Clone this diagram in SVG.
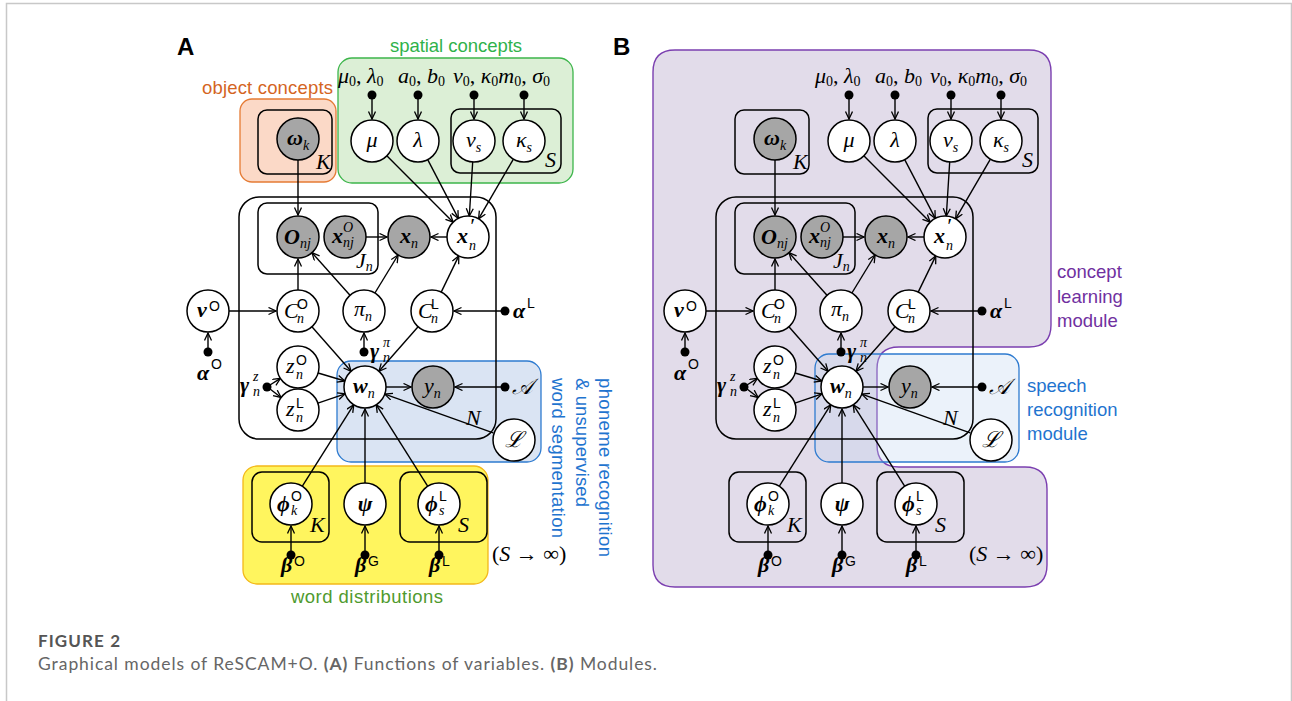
<svg xmlns="http://www.w3.org/2000/svg" width="1292" height="701" viewBox="0 0 1292 701">
<defs>
<marker id="ah" markerWidth="10" markerHeight="10" refX="8" refY="4" orient="auto" markerUnits="userSpaceOnUse">
<path d="M0.5,0.5 L8,4 L0.5,7.5" fill="none" stroke="#000" stroke-width="1.3"/>
</marker>
<style>
.n{fill:#fff;stroke:#000;stroke-width:1.5}
.g{fill:#a6a6a6;stroke:#000;stroke-width:1.5}
.pl{fill:none;stroke:#000;stroke-width:1.5}
.e{fill:none;stroke:#000;stroke-width:1.4;marker-end:url(#ah)}
.m{font-family:"Liberation Serif","DejaVu Serif",serif;font-style:italic;font-size:22px;fill:#000}
.b{font-weight:bold}
.s{font-size:14px}
.up{font-style:normal}
.u{font-family:"Liberation Sans",Arial,sans-serif;font-style:normal;font-size:14px;fill:#000}
.lbl{font-family:"Liberation Sans",Arial,sans-serif;font-size:18.5px}
.panel{font-family:"Liberation Sans",Arial,sans-serif;font-weight:bold;font-size:24px;fill:#000}
</style>
</defs>
<rect x="0" y="0" width="1292" height="701" fill="#fff"/>
<path d="M6.5,701 V3.5 H1291.5 V701" fill="none" stroke="#c8c8c8" stroke-width="1.5"/>

<!-- ================= PANEL A ================= -->
<text class="panel" x="177" y="55">A</text>
<g id="a-backgrounds">
<rect x="240" y="99" width="96" height="83" rx="12" fill="#fbd9c7" stroke="#e57b35" stroke-width="1.3"/>
<rect x="338" y="58" width="235" height="125" rx="14" fill="#dcefd6" stroke="#3db54b" stroke-width="1.3"/>
<rect x="337" y="361" width="204" height="101" rx="14" fill="#dae4f3" stroke="#2e7bd0" stroke-width="1.3"/>
<rect x="243" y="466" width="245" height="118" rx="14" fill="#fff55e" stroke="#f3b81a" stroke-width="1.3"/>
<text class="lbl" x="390" y="52" fill="#2fb24a" textLength="132">spatial concepts</text>
<text class="lbl" x="202" y="94" fill="#d4651f" textLength="131">object concepts</text>
<text class="lbl" x="291" y="603" fill="#4f9a2e" textLength="152">word distributions</text>
<g class="lbl" fill="#1f74cf" font-size="19px">
<text transform="translate(599,378) rotate(90)" textLength="179">phoneme recognition</text>
<text transform="translate(576,378) rotate(90)" textLength="129">&amp; unsupervised</text>
<text transform="translate(552,378) rotate(90)" textLength="160">word segmentation</text>
</g>
</g>

<g id="a-plates">
<rect class="pl" x="258" y="110" width="74" height="64" rx="9"/>
<rect class="pl" x="451" y="109" width="110" height="64" rx="9"/>
<rect class="pl" x="239" y="197" width="257" height="242" rx="20"/>
<rect class="pl" x="258" y="203" width="120" height="71" rx="9"/>
<rect class="pl" x="252" y="472" width="77" height="70" rx="10"/>
<rect class="pl" x="400" y="472" width="87" height="70" rx="10"/>
<text class="m" x="316" y="169">K</text>
<text class="m" x="545" y="167">S</text>
<text class="m" x="356" y="268">J<tspan class="s" dy="3">n</tspan></text>
<text class="m" x="466" y="425" font-size="20">N</text>
<text class="m" x="310" y="532">K</text>
<text class="m" x="458" y="532">S</text>
</g>

<g id="a-hyper">
<text class="m" x="338" y="83">μ<tspan class="s up" dy="3">0</tspan><tspan class="up" dy="-3">, </tspan>λ<tspan class="s up" dy="3">0</tspan></text>
<text class="m" x="398" y="83">a<tspan class="s up" dy="3">0</tspan><tspan class="up" dy="-3">, </tspan>b<tspan class="s up" dy="3">0</tspan></text>
<text class="m" x="453" y="83">ν<tspan class="s up" dy="3">0</tspan><tspan class="up" dy="-3">, </tspan>κ<tspan class="s up" dy="3">0</tspan><tspan dy="-3">m</tspan><tspan class="s up" dy="3">0</tspan><tspan class="up" dy="-3">, </tspan>σ<tspan class="s up" dy="3">0</tspan></text>
<text class="m b" x="513" y="318">α</text><text class="u" x="527" y="308" font-size="15">L</text>
<text class="m b" x="197" y="380">α</text><text class="u" x="211" y="369" font-size="15">O</text>
<text class="m b" x="370" y="358">γ</text><text class="m s" x="383" y="347">π</text><text class="m s" x="383" y="362">n</text>
<text class="m b" x="240" y="392">γ</text><text class="m s" x="253" y="381">z</text><text class="m s" x="253" y="396">n</text>
<text class="m" x="512" y="394">𝒜</text>
<text class="m b" x="281" y="572">β</text><text class="u" x="294" y="566" font-size="15">O</text>
<text class="m b" x="355" y="572">β</text><text class="u" x="368" y="566" font-size="15">G</text>
<text class="m b" x="429" y="572">β</text><text class="u" x="442" y="566" font-size="15">L</text>
<text class="m up" x="492" y="561" font-size="20">(<tspan font-style="italic">S</tspan> → ∞)</text>
</g>

<g id="a-connectors">
<path class="e" d="M372,99 L372,119"/>
<path class="e" d="M418,99 L418,119"/>
<path class="e" d="M474,99 L474,119"/>
<path class="e" d="M524,99 L524,119"/>
<path class="e" d="M298,160 L298,215"/>
<path class="e" d="M386.8,155.8 L453.2,222.2"/>
<path class="e" d="M427.7,159.6 L458.3,218.4"/>
<path class="e" d="M472.7,162 L469.3,216"/>
<path class="e" d="M513.4,159.1 L478.6,218.9"/>
<path class="e" d="M366,237 L387,237"/>
<path class="e" d="M447,237 L431,237"/>
<path class="e" d="M298,290 L298,259"/>
<path class="e" d="M350,295.3 L312,252.7"/>
<path class="e" d="M374.9,293 L398.1,255"/>
<path class="e" d="M441.2,292.1 L458.8,255.9"/>
<path class="e" d="M229,311 L276,311"/>
<path class="e" d="M208,348 L208,333"/>
<path class="e" d="M501,311 L454,311"/>
<path class="e" d="M364,348 L364,333"/>
<path class="e" d="M311.9,326.8 L351.1,371.3"/>
<path class="e" d="M418.1,326.8 L378.9,371.3"/>
<path class="e" d="M270,385 L280.4,378.4"/>
<path class="e" d="M270,389 L281.1,397.5"/>
<path class="e" d="M318.1,373 L344.9,381"/>
<path class="e" d="M317.9,403.2 L345.1,393.8"/>
<path class="e" d="M386,387 L411,387"/>
<path class="e" d="M501,387 L455,387"/>
<path class="e" d="M493.2,432.9 L384.8,394.1"/>
<path class="e" d="M302.2,486.3 L353.8,404.7"/>
<path class="e" d="M365,483 L365,409"/>
<path class="e" d="M427.8,486.3 L376.2,404.7"/>
<path class="e" d="M291,551 L291,526"/>
<path class="e" d="M365,551 L365,526"/>
<path class="e" d="M439,551 L439,526"/>
<g fill="#000">
<circle cx="372" cy="95" r="4.5"/><circle cx="418" cy="95" r="4.5"/><circle cx="474" cy="95" r="4.5"/><circle cx="524" cy="95" r="4.5"/>
<circle cx="208" cy="352" r="4.5"/><circle cx="505" cy="311" r="4.5"/><circle cx="364" cy="352" r="4.5"/><circle cx="267" cy="387" r="4.5"/>
<circle cx="505" cy="387" r="4.5"/><circle cx="291" cy="555" r="4.5"/><circle cx="365" cy="555" r="4.5"/><circle cx="439" cy="555" r="4.5"/>
</g>
</g>

<g id="a-omega"><circle class="g" cx="298" cy="139" r="21"/><text class="m" x="287" y="145"><tspan class="b">ω</tspan><tspan class="s" dy="5">k</tspan></text></g>
<g id="a-mu"><circle class="n" cx="372" cy="141" r="21"/><text class="m" x="372" y="147" text-anchor="middle">μ</text></g>
<g id="a-lambda"><circle class="n" cx="418" cy="141" r="21"/><text class="m" x="418" y="147" text-anchor="middle">λ</text></g>
<g id="a-nu"><circle class="n" cx="474" cy="141" r="21"/><text class="m" x="466" y="147">ν<tspan class="s" dy="5">s</tspan></text></g>
<g id="a-kappa"><circle class="n" cx="524" cy="141" r="21"/><text class="m" x="516" y="147">κ<tspan class="s" dy="5">s</tspan></text></g>
<g id="a-O"><circle class="g" cx="298" cy="237" r="21"/><text class="m" x="284" y="244"><tspan class="b">O</tspan><tspan class="s" dy="4">nj</tspan></text></g>
<g id="a-xO"><circle class="g" cx="345" cy="237" r="21"/><text class="m b" x="332" y="243">x</text><text class="m s" x="343" y="232">O</text><text class="m s" x="343" y="247">nj</text></g>
<g id="a-x"><circle class="g" cx="409" cy="237" r="21"/><text class="m" x="400" y="243"><tspan class="b">x</tspan><tspan class="s" dy="5">n</tspan></text></g>
<g id="a-xp"><circle class="n" cx="468" cy="237" r="21"/><text class="m b" x="457" y="243">x</text><text class="m" x="469" y="233" font-size="15">′</text><text class="m s" x="469" y="250">n</text></g>
<g id="a-vO"><circle class="n" cx="208" cy="311" r="21"/><text class="m b" x="197" y="317">v</text><text class="u" x="209" y="311" font-size="15">O</text></g>
<g id="a-CO"><circle class="n" cx="298" cy="311" r="21"/><text class="m" x="284" y="318">C</text><text class="u" x="297" y="309">O</text><text class="m s" x="297" y="323">n</text></g>
<g id="a-pi"><circle class="n" cx="364" cy="311" r="21"/><text class="m" x="354" y="316">π<tspan class="s" dy="5">n</tspan></text></g>
<g id="a-CL"><circle class="n" cx="432" cy="311" r="21"/><text class="m" x="418" y="318">C</text><text class="u" x="431" y="309">L</text><text class="m s" x="431" y="323">n</text></g>
<g id="a-zO"><circle class="n" cx="298" cy="367" r="21"/><text class="m" x="286" y="373">z</text><text class="u" x="296" y="365">O</text><text class="m s" x="296" y="379">n</text></g>
<g id="a-zL"><circle class="n" cx="298" cy="410" r="21"/><text class="m" x="286" y="416">z</text><text class="u" x="296" y="408">L</text><text class="m s" x="296" y="422">n</text></g>
<g id="a-w"><circle class="n" cx="365" cy="387" r="21"/><text class="m" x="353" y="393"><tspan class="b">w</tspan><tspan class="s" dy="5">n</tspan></text></g>
<g id="a-y"><circle class="g" cx="433" cy="387" r="21"/><text class="m" x="424" y="393">y<tspan class="s" dy="5">n</tspan></text></g>
<g id="a-L"><circle class="n" cx="514" cy="440" r="21"/><text class="m" x="514" y="447" text-anchor="middle" font-family="DejaVu Serif, serif" font-size="20">ℒ</text></g>
<g id="a-phiO"><circle class="n" cx="291" cy="504" r="21"/><text class="m b" x="277" y="511">ϕ</text><text class="u" x="291" y="501">O</text><text class="m s" x="291" y="515">k</text></g>
<g id="a-psi"><circle class="n" cx="365" cy="504" r="21"/><text class="m b" x="365" y="511" text-anchor="middle">ψ</text></g>
<g id="a-phiL"><circle class="n" cx="439" cy="504" r="21"/><text class="m b" x="425" y="511">ϕ</text><text class="u" x="439" y="501">L</text><text class="m s" x="439" y="515">s</text></g>

<!-- ================= PANEL B ================= -->
<text class="panel" x="613" y="55">B</text>
<g id="b-backgrounds">
<path d="M675,50 H1029 Q1051,50 1051,72 V325 Q1051,347 1029,347 H899 Q877,347 877,369 V445 Q877,467 899,467 H1025 Q1047,467 1047,489 V565 Q1047,587 1025,587 H675 Q653,587 653,565 V72 Q653,50 675,50 Z" fill="#e2dcea" stroke="#7b3fb0" stroke-width="1.4"/>
<rect x="815" y="354" width="204" height="108" rx="14" fill="#bdd3f0" fill-opacity="0.3" stroke="#2e7bd0" stroke-width="1.3"/>
<g class="lbl" fill="#7030a0">
<text x="1057" y="278">concept</text>
<text x="1057" y="303">learning</text>
<text x="1057" y="327">module</text>
</g>
<g class="lbl" fill="#1f74cf">
<text x="1027" y="392">speech</text>
<text x="1027" y="416">recognition</text>
<text x="1027" y="440">module</text>
</g>
</g>

<g transform="translate(477,0)">
<g id="b-plates">
<rect class="pl" x="258" y="110" width="74" height="64" rx="9"/>
<rect class="pl" x="451" y="109" width="110" height="64" rx="9"/>
<rect class="pl" x="239" y="197" width="257" height="242" rx="20"/>
<rect class="pl" x="258" y="203" width="120" height="71" rx="9"/>
<rect class="pl" x="252" y="472" width="77" height="70" rx="10"/>
<rect class="pl" x="400" y="472" width="87" height="70" rx="10"/>
<text class="m" x="316" y="169">K</text>
<text class="m" x="545" y="167">S</text>
<text class="m" x="356" y="268">J<tspan class="s" dy="3">n</tspan></text>
<text class="m" x="466" y="425" font-size="20">N</text>
<text class="m" x="310" y="532">K</text>
<text class="m" x="458" y="532">S</text>
</g>

<g id="b-hyper">
<text class="m" x="338" y="83">μ<tspan class="s up" dy="3">0</tspan><tspan class="up" dy="-3">, </tspan>λ<tspan class="s up" dy="3">0</tspan></text>
<text class="m" x="398" y="83">a<tspan class="s up" dy="3">0</tspan><tspan class="up" dy="-3">, </tspan>b<tspan class="s up" dy="3">0</tspan></text>
<text class="m" x="453" y="83">ν<tspan class="s up" dy="3">0</tspan><tspan class="up" dy="-3">, </tspan>κ<tspan class="s up" dy="3">0</tspan><tspan dy="-3">m</tspan><tspan class="s up" dy="3">0</tspan><tspan class="up" dy="-3">, </tspan>σ<tspan class="s up" dy="3">0</tspan></text>
<text class="m b" x="513" y="318">α</text><text class="u" x="527" y="308" font-size="15">L</text>
<text class="m b" x="197" y="380">α</text><text class="u" x="211" y="369" font-size="15">O</text>
<text class="m b" x="370" y="358">γ</text><text class="m s" x="383" y="347">π</text><text class="m s" x="383" y="362">n</text>
<text class="m b" x="240" y="392">γ</text><text class="m s" x="253" y="381">z</text><text class="m s" x="253" y="396">n</text>
<text class="m" x="512" y="394">𝒜</text>
<text class="m b" x="281" y="572">β</text><text class="u" x="294" y="566" font-size="15">O</text>
<text class="m b" x="355" y="572">β</text><text class="u" x="368" y="566" font-size="15">G</text>
<text class="m b" x="429" y="572">β</text><text class="u" x="442" y="566" font-size="15">L</text>
<text class="m up" x="492" y="561" font-size="20">(<tspan font-style="italic">S</tspan> → ∞)</text>
</g>

<g id="b-connectors">
<path class="e" d="M372,99 L372,119"/>
<path class="e" d="M418,99 L418,119"/>
<path class="e" d="M474,99 L474,119"/>
<path class="e" d="M524,99 L524,119"/>
<path class="e" d="M298,160 L298,215"/>
<path class="e" d="M386.8,155.8 L453.2,222.2"/>
<path class="e" d="M427.7,159.6 L458.3,218.4"/>
<path class="e" d="M472.7,162 L469.3,216"/>
<path class="e" d="M513.4,159.1 L478.6,218.9"/>
<path class="e" d="M366,237 L387,237"/>
<path class="e" d="M447,237 L431,237"/>
<path class="e" d="M298,290 L298,259"/>
<path class="e" d="M350,295.3 L312,252.7"/>
<path class="e" d="M374.9,293 L398.1,255"/>
<path class="e" d="M441.2,292.1 L458.8,255.9"/>
<path class="e" d="M229,311 L276,311"/>
<path class="e" d="M208,348 L208,333"/>
<path class="e" d="M501,311 L454,311"/>
<path class="e" d="M364,348 L364,333"/>
<path class="e" d="M311.9,326.8 L351.1,371.3"/>
<path class="e" d="M418.1,326.8 L378.9,371.3"/>
<path class="e" d="M270,385 L280.4,378.4"/>
<path class="e" d="M270,389 L281.1,397.5"/>
<path class="e" d="M318.1,373 L344.9,381"/>
<path class="e" d="M317.9,403.2 L345.1,393.8"/>
<path class="e" d="M386,387 L411,387"/>
<path class="e" d="M501,387 L455,387"/>
<path class="e" d="M493.2,432.9 L384.8,394.1"/>
<path class="e" d="M302.2,486.3 L353.8,404.7"/>
<path class="e" d="M365,483 L365,409"/>
<path class="e" d="M427.8,486.3 L376.2,404.7"/>
<path class="e" d="M291,551 L291,526"/>
<path class="e" d="M365,551 L365,526"/>
<path class="e" d="M439,551 L439,526"/>
<g fill="#000">
<circle cx="372" cy="95" r="4.5"/><circle cx="418" cy="95" r="4.5"/><circle cx="474" cy="95" r="4.5"/><circle cx="524" cy="95" r="4.5"/>
<circle cx="208" cy="352" r="4.5"/><circle cx="505" cy="311" r="4.5"/><circle cx="364" cy="352" r="4.5"/><circle cx="267" cy="387" r="4.5"/>
<circle cx="505" cy="387" r="4.5"/><circle cx="291" cy="555" r="4.5"/><circle cx="365" cy="555" r="4.5"/><circle cx="439" cy="555" r="4.5"/>
</g>
</g>

<g id="b-omega"><circle class="g" cx="298" cy="139" r="21"/><text class="m" x="287" y="145"><tspan class="b">ω</tspan><tspan class="s" dy="5">k</tspan></text></g>
<g id="b-mu"><circle class="n" cx="372" cy="141" r="21"/><text class="m" x="372" y="147" text-anchor="middle">μ</text></g>
<g id="b-lambda"><circle class="n" cx="418" cy="141" r="21"/><text class="m" x="418" y="147" text-anchor="middle">λ</text></g>
<g id="b-nu"><circle class="n" cx="474" cy="141" r="21"/><text class="m" x="466" y="147">ν<tspan class="s" dy="5">s</tspan></text></g>
<g id="b-kappa"><circle class="n" cx="524" cy="141" r="21"/><text class="m" x="516" y="147">κ<tspan class="s" dy="5">s</tspan></text></g>
<g id="b-O"><circle class="g" cx="298" cy="237" r="21"/><text class="m" x="284" y="244"><tspan class="b">O</tspan><tspan class="s" dy="4">nj</tspan></text></g>
<g id="b-xO"><circle class="g" cx="345" cy="237" r="21"/><text class="m b" x="332" y="243">x</text><text class="m s" x="343" y="232">O</text><text class="m s" x="343" y="247">nj</text></g>
<g id="b-x"><circle class="g" cx="409" cy="237" r="21"/><text class="m" x="400" y="243"><tspan class="b">x</tspan><tspan class="s" dy="5">n</tspan></text></g>
<g id="b-xp"><circle class="n" cx="468" cy="237" r="21"/><text class="m b" x="457" y="243">x</text><text class="m" x="469" y="233" font-size="15">′</text><text class="m s" x="469" y="250">n</text></g>
<g id="b-vO"><circle class="n" cx="208" cy="311" r="21"/><text class="m b" x="197" y="317">v</text><text class="u" x="209" y="311" font-size="15">O</text></g>
<g id="b-CO"><circle class="n" cx="298" cy="311" r="21"/><text class="m" x="284" y="318">C</text><text class="u" x="297" y="309">O</text><text class="m s" x="297" y="323">n</text></g>
<g id="b-pi"><circle class="n" cx="364" cy="311" r="21"/><text class="m" x="354" y="316">π<tspan class="s" dy="5">n</tspan></text></g>
<g id="b-CL"><circle class="n" cx="432" cy="311" r="21"/><text class="m" x="418" y="318">C</text><text class="u" x="431" y="309">L</text><text class="m s" x="431" y="323">n</text></g>
<g id="b-zO"><circle class="n" cx="298" cy="367" r="21"/><text class="m" x="286" y="373">z</text><text class="u" x="296" y="365">O</text><text class="m s" x="296" y="379">n</text></g>
<g id="b-zL"><circle class="n" cx="298" cy="410" r="21"/><text class="m" x="286" y="416">z</text><text class="u" x="296" y="408">L</text><text class="m s" x="296" y="422">n</text></g>
<g id="b-w"><circle class="n" cx="365" cy="387" r="21"/><text class="m" x="353" y="393"><tspan class="b">w</tspan><tspan class="s" dy="5">n</tspan></text></g>
<g id="b-y"><circle class="g" cx="433" cy="387" r="21"/><text class="m" x="424" y="393">y<tspan class="s" dy="5">n</tspan></text></g>
<g id="b-L"><circle class="n" cx="514" cy="440" r="21"/><text class="m" x="514" y="447" text-anchor="middle" font-family="DejaVu Serif, serif" font-size="20">ℒ</text></g>
<g id="b-phiO"><circle class="n" cx="291" cy="504" r="21"/><text class="m b" x="277" y="511">ϕ</text><text class="u" x="291" y="501">O</text><text class="m s" x="291" y="515">k</text></g>
<g id="b-psi"><circle class="n" cx="365" cy="504" r="21"/><text class="m b" x="365" y="511" text-anchor="middle">ψ</text></g>
<g id="b-phiL"><circle class="n" cx="439" cy="504" r="21"/><text class="m b" x="425" y="511">ϕ</text><text class="u" x="439" y="501">L</text><text class="m s" x="439" y="515">s</text></g>
</g>

<g id="caption" font-family="Lato, 'Liberation Sans', sans-serif">
<text x="38" y="647" font-size="17" font-weight="bold" fill="#555" textLength="82">FIGURE 2</text>
<text x="38" y="670" font-size="17.5" fill="#666" textLength="619">Graphical models of ReSCAM+O. <tspan font-weight="bold">(A)</tspan> Functions of variables. <tspan font-weight="bold">(B)</tspan> Modules.</text>
</g>
</svg>
